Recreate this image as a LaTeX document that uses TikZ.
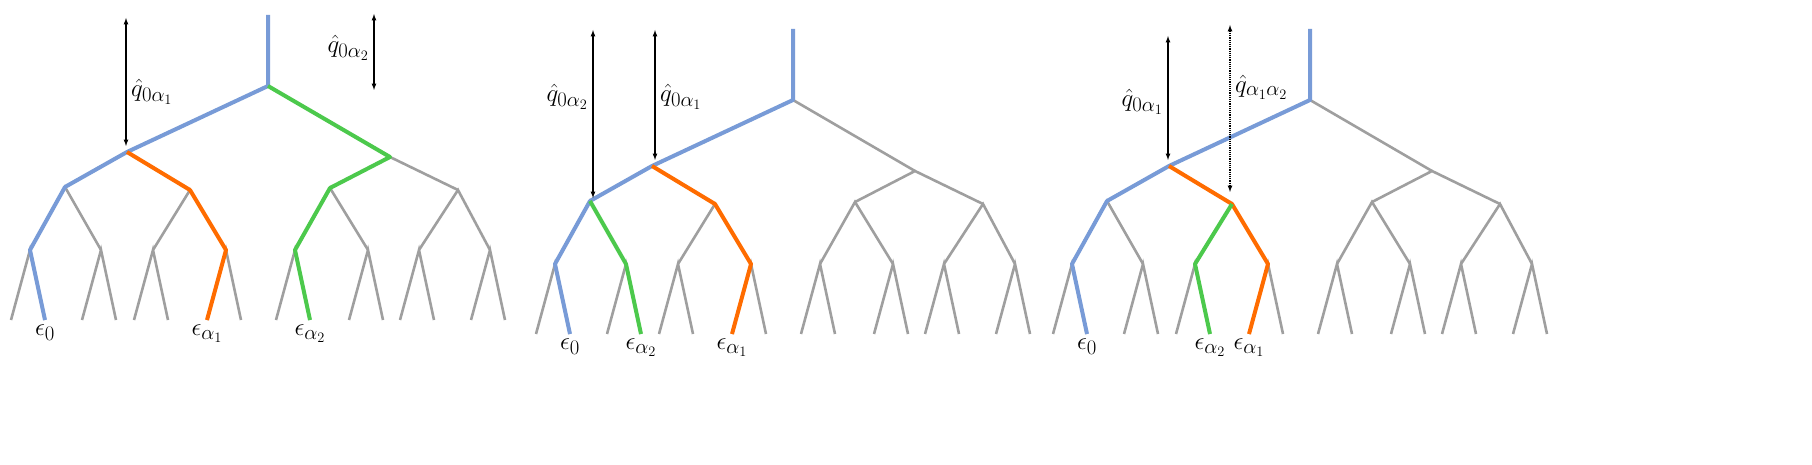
\documentclass[tikz,border=0pt]{standalone}
\usepackage{amsmath}
\begin{document}
\begin{tikzpicture}[x=1pt,y=-1pt,
  br/.style={draw=gray!75,line width=2.6pt},
  bl/.style={draw=cyan!45!blue!55,line width=4pt,line join=round},
  gr/.style={draw=green!70!black!70,line width=4pt,line join=round},
  og/.style={draw=orange!85!red,line width=4pt,line join=round},
  lab/.style={font=\fontsize{28}{32}\selectfont,inner sep=1pt},
  arr/.style={<->,>=latex,line width=1.2pt}]
\useasboundingbox (0,0) rectangle (1812,465);
\colorlet{blc}{cyan!45!blue!55}
\newcommand\mktree[3]{%
 \begin{scope}[shift={(#1,#2)}]
 \coordinate (#3r) at (0,0); \coordinate (#3t) at (0,-71);
 \coordinate (#3A) at (-141,66); \coordinate (#3B) at (122,71);
 \coordinate (#3a) at (-203,101); \coordinate (#3b) at (-78,104);
 \coordinate (#3c) at (62,102); \coordinate (#3d) at (190,104);
 \foreach \i/\x in {1/-238,2/-167,3/-115,4/-42,5/27,6/100,7/151,8/222}{
   \coordinate (#3p\i) at (\x,164);
   \pgfmathtruncatemacro\li{2*\i-1}\pgfmathtruncatemacro\ri{2*\i}
   \coordinate (#3l\li) at (\x-19,234); \coordinate (#3l\ri) at (\x+15,234);
   \draw[br] (#3l\li) -- (#3p\i) -- (#3l\ri);}
 \draw[br] (#3t) -- (#3r);
 \draw[br] (#3A) -- (#3r) -- (#3B);
 \draw[br] (#3a) -- (#3A) -- (#3b); \draw[br] (#3c) -- (#3B) -- (#3d);
 \draw[br] (#3p1) -- (#3a) -- (#3p2); \draw[br] (#3p3) -- (#3b) -- (#3p4);
 \draw[br] (#3p5) -- (#3c) -- (#3p6); \draw[br] (#3p7) -- (#3d) -- (#3p8);
 \end{scope}}
\mktree{268}{86}{u}
\mktree{793}{100}{v}
\mktree{1310}{100}{w}
% tree 1
\draw[bl] (ut) -- (ur) -- (uA) -- (ua) -- (up1) -- (ul2);
\draw[og] (uA) -- (ub) -- (up4) -- (ul7);
\draw[gr] (ur) -- (uB) -- (uc) -- (up5) -- (ul10);
% tree 2
\draw[bl] (vt) -- (vr) -- (vA) -- (va) -- (vp1) -- (vl2);
\draw[gr] (va) -- (vp2) -- (vl4);
\draw[og] (vA) -- (vb) -- (vp4) -- (vl7);
% tree 3
\draw[bl] (wt) -- (wr) -- (wA) -- (wa) -- (wp1) -- (wl2);
\draw[og] (wA) -- (wb) -- (wp4) -- (wl7);
\draw[gr] (wb) -- (wp3) -- (wl6);
% leaf labels
\node[lab,below=4pt] (e1) at (ul2) {$\epsilon_0$};
\node[lab,below=4pt] (e2) at (ul7) {$\epsilon_{\alpha_1}$};
\node[lab,below=4pt] (e3) at (ul10) {$\epsilon_{\alpha_2}$};
\node[lab,below=4pt] (e4) at (vl2) {$\epsilon_0$};
\node[lab,below=4pt] (e5) at (vl4) {$\epsilon_{\alpha_2}$};
\node[lab,below=4pt] (e6) at (vl7) {$\epsilon_{\alpha_1}$};
\node[lab,below=4pt] (e7) at (wl2) {$\epsilon_0$};
\node[lab,below=4pt] (e8) at (wl6) {$\epsilon_{\alpha_2}$};
\node[lab,below=4pt] (e9) at (wl7) {$\epsilon_{\alpha_1}$};
% arrows
\coordinate (a1t) at (126,18); \coordinate (a1b) at (126,146);
\draw[arr] (a1t) -- (a1b);
\node[lab,anchor=west] (q1) at (130,92) {$\hat q_{0\alpha_1}$};
\coordinate (a2t) at (374,14); \coordinate (a2b) at (374,90);
\draw[arr] (a2t) -- (a2b);
\node[lab,anchor=east] (q2) at (370,48) {$\hat q_{0\alpha_2}$};
\coordinate (a3t) at (593,30); \coordinate (a3b) at (593,198);
\draw[arr] (a3t) -- (a3b);
\node[lab,anchor=east] (q3) at (589,97) {$\hat q_{0\alpha_2}$};
\coordinate (a4t) at (655,30); \coordinate (a4b) at (655,160);
\draw[arr] (a4t) -- (a4b);
\node[lab,anchor=west] (q4) at (659,97) {$\hat q_{0\alpha_1}$};
\coordinate (a5t) at (1168,36); \coordinate (a5b) at (1168,160);
\draw[arr] (a5t) -- (a5b);
\node[lab,anchor=east] (q5) at (1164,102) {$\hat q_{0\alpha_1}$};
\coordinate (a6t) at (1230,25); \coordinate (a6b) at (1230,192);
\draw[arr,densely dotted] (a6t) -- (a6b);
\node[lab,anchor=west] (q6) at (1234,87) {$\hat q_{\alpha_1\alpha_2}$};
\end{tikzpicture}
\end{document}
